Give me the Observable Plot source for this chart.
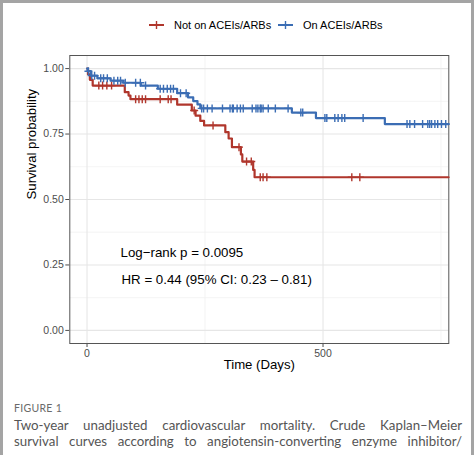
<!DOCTYPE html>
<html>
<head>
<meta charset="utf-8">
<script src="https://cdn.jsdelivr.net/npm/d3@7"></script>
<script src="https://cdn.jsdelivr.net/npm/@observablehq/plot@0.6"></script>
<style>
  html, body { margin: 0; padding: 0; background: #fff; }
  #outer { position: relative; width: 474px; height: 455px; background: #a4a4a4; overflow: hidden; }
  #inner { position: absolute; left: 3px; top: 3px; width: 468px; height: 452px; background: #fff; overflow: hidden; }
  #legend { position: absolute; left: 0; top: 0; width: 468px; height: 42px; font-family: "Liberation Sans", Arial, sans-serif; font-size: 11px; color: #000; }
  .lkey { position: absolute; }
  .ltext { position: absolute; line-height: 14px; white-space: nowrap; }
  #chart { position: absolute; left: 0; top: 42px; }
  #fig { position: absolute; left: 11px; top: 399px; font-family: Lato, "Open Sans", sans-serif; font-size: 10.5px; line-height: 12px; color: #6a6a6a; letter-spacing: 0.3px; }
  .cap { position: absolute; left: 11px; width: 448px; font-family: Lato, "Open Sans", sans-serif; font-size: 13.3px; line-height: 16px; color: #555; text-align: justify; text-align-last: justify; white-space: nowrap; }
</style>
</head>
<body>
<div id="outer"><div id="inner">
  <div id="legend"></div>
  <div id="chart"></div>
  <div id="fig"></div>
  <div class="cap" id="cap1" style="top:413.5px"></div>
  <div class="cap" id="cap2" style="top:429.5px"></div>
</div></div>
<script>
// ---------------- DATA ----------------
const groups = ["Not on ACEIs/ARBs", "On ACEIs/ARBs"];
const colors = ["#b0362c", "#3b6db4"];

// Kaplan–Meier step points (day, survival) — Not on ACEIs/ARBs
const redTimes = [0, 2, 6, 12, 80, 88, 92, 191, 222, 230, 240, 248, 293, 300, 307, 326, 329, 352, 355];
const redSurv  = [1.0, 0.978, 0.957, 0.935, 0.91, 0.897, 0.883, 0.862, 0.84, 0.82, 0.80, 0.783, 0.757, 0.733, 0.70, 0.672, 0.645, 0.613, 0.585];
const redCensor = [25, 33, 42, 52, 103, 110, 117, 124, 155, 172, 178, 227, 267, 322, 338, 348, 367, 373, 381, 561, 578];

// Kaplan–Meier step points (day, survival) — On ACEIs/ARBs
const blueTimes = [0, 1, 8, 22, 50, 77, 114, 150, 191, 214, 225, 234, 240, 434, 485, 631];
const blueSurv  = [1.0, 0.99, 0.973, 0.963, 0.954, 0.946, 0.935, 0.923, 0.906, 0.89, 0.876, 0.863, 0.848, 0.832, 0.811, 0.788];
const blueCensor = [3, 10, 16, 29, 35, 43, 57, 65, 71, 81, 103, 113, 124, 155, 162, 170, 177, 183, 198, 210,
  243, 247, 255, 265, 287, 303, 308, 310, 318, 325, 331, 350, 358, 362, 367, 369, 373, 384, 399, 426,
  453, 457, 504, 508, 525, 532, 540, 546, 585, 678, 684, 694, 711, 722, 726, 730, 737, 743, 751, 760];

const followUpEnd = 766; // curves continue past the visible window

const xDomain = [-36.5, 766.5];
const yDomain = [-0.05, 1.05];
const xTicks = [0, 500];
const xMinor = [250, 750];
const yTicks = [0, 0.25, 0.5, 0.75, 1.0];
const yMinor = [0.125, 0.375, 0.625, 0.875];

const annotLabels = ["Log\u2212rank p = 0.0095", "HR = 0.44 (95% CI: 0.23 \u2013 0.81)"];
const annotX = [71, 73];
const annotY = [0.295, 0.195];

const xTitle = "Time (Days)";
const yTitle = "Survival probability";
const figLabel = "FIGURE 1";
const captionLines = [
  "Two-year unadjusted cardiovascular mortality. Crude Kaplan\u2013Meier",
  "survival curves according to angiotensin-converting enzyme inhibitor/"
];

// ---------------- BUILD ----------------
function stepRows(times, surv, group) {
  const rows = times.map((t, i) => ({t, s: surv[i], group}));
  rows.push({t: followUpEnd, s: surv[surv.length - 1], group});
  return rows;
}
function survAt(times, surv, t) {
  let s = surv[0];
  for (let i = 0; i < times.length; i++) if (times[i] <= t) s = surv[i];
  return s;
}
const redRows = stepRows(redTimes, redSurv, groups[0]);
const blueRows = stepRows(blueTimes, blueSurv, groups[1]);
const redCens = redCensor.map(t => ({t, s: survAt(redTimes, redSurv, t)}));
const blueCens = blueCensor.map(t => ({t, s: survAt(blueTimes, blueSurv, t)}));
const annots = annotLabels.map((label, i) => ({label, x: annotX[i], y: annotY[i]}));

const plusSymbol = {
  draw(context, size) {
    const r = Math.sqrt(size / Math.PI);
    context.moveTo(-r, 0); context.lineTo(r, 0);
    context.moveTo(0, -r); context.lineTo(0, r);
  }
};

const chart = Plot.plot({
  width: 468,
  height: 335,
  marginTop: 10,
  marginBottom: 37,
  marginLeft: 66.3,
  marginRight: 22.7,
  style: {fontFamily: "'Liberation Sans', Arial, sans-serif", fontSize: "10.5px", color: "#4d4d4d", background: "transparent", overflow: "visible"},
  x: {domain: xDomain, ticks: xTicks, tickFormat: d3.format("d"), tickSize: 4, tickPadding: 2, label: null},
  y: {domain: yDomain, ticks: yTicks, tickFormat: d3.format(".2f"), tickSize: 4, tickPadding: 2, label: null},
  marks: [
    Plot.ruleX(xMinor, {stroke: "#efefef", strokeWidth: 0.7}),
    Plot.ruleY(yMinor, {stroke: "#efefef", strokeWidth: 0.7}),
    Plot.ruleX(xTicks, {stroke: "#e6e6e6", strokeWidth: 1.1}),
    Plot.ruleY(yTicks, {stroke: "#e6e6e6", strokeWidth: 1.1}),
    Plot.frame({stroke: "#555", strokeWidth: 1}),
    Plot.line(redRows, {x: "t", y: "s", curve: "step-after", stroke: colors[0], strokeWidth: 2.2}),
    Plot.dot(redCens, {x: "t", y: "s", symbol: plusSymbol, r: 4, fill: "none", stroke: colors[0], strokeWidth: 1.4}),
    Plot.line(blueRows, {x: "t", y: "s", curve: "step-after", stroke: colors[1], strokeWidth: 2.2}),
    Plot.dot(blueCens, {x: "t", y: "s", symbol: plusSymbol, r: 4, fill: "none", stroke: colors[1], strokeWidth: 1.4}),
    Plot.text(annots, {x: "x", y: "y", text: "label", textAnchor: "start", fontSize: 13.3, fill: "#000"}),
    Plot.text([xTitle], {frameAnchor: "bottom", dy: 25, fontSize: 13.2, fill: "#000"}),
    Plot.text([yTitle], {frameAnchor: "left", dx: -38, rotate: -90, fontSize: 13.2, fill: "#000"})
  ]
});
document.getElementById("chart").appendChild(chart);

// Legend
const legend = document.getElementById("legend");
const keyX = [146, 275];
const textX = [171, 300];
groups.forEach((g, i) => {
  const ns = "http://www.w3.org/2000/svg";
  const svg = document.createElementNS(ns, "svg");
  svg.setAttribute("width", 20); svg.setAttribute("height", 12);
  svg.setAttribute("class", "lkey");
  svg.style.left = keyX[i] + "px"; svg.style.top = "16px";
  const l1 = document.createElementNS(ns, "line");
  l1.setAttribute("x1", 0); l1.setAttribute("x2", 15); l1.setAttribute("y1", 6); l1.setAttribute("y2", 6);
  l1.setAttribute("stroke", colors[i]); l1.setAttribute("stroke-width", 2);
  const l2 = document.createElementNS(ns, "line");
  l2.setAttribute("x1", 7.5); l2.setAttribute("x2", 7.5); l2.setAttribute("y1", 2); l2.setAttribute("y2", 10);
  l2.setAttribute("stroke", colors[i]); l2.setAttribute("stroke-width", 1.4);
  svg.appendChild(l1); svg.appendChild(l2);
  legend.appendChild(svg);
  const span = document.createElement("div");
  span.className = "ltext";
  span.style.left = textX[i] + "px"; span.style.top = "15px";
  span.textContent = g;
  legend.appendChild(span);
});

document.getElementById("fig").textContent = figLabel;
document.getElementById("cap1").textContent = captionLines[0];
document.getElementById("cap2").textContent = captionLines[1];
</script>
</body>
</html>
